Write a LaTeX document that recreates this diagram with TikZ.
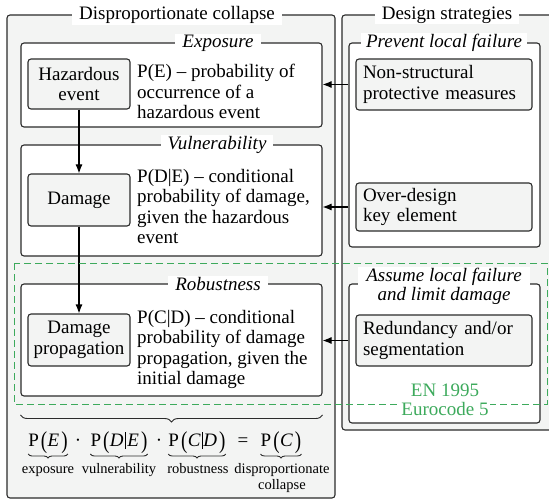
\documentclass[tikz,border=0pt]{standalone}
\usepackage{fontspec}
\setmainfont{Liberation Serif}
\usetikzlibrary{arrows.meta,decorations.pathreplacing}
\definecolor{bg}{HTML}{F3F4F3}
\definecolor{ln}{HTML}{2B2B2B}
\definecolor{grn}{HTML}{3DAA5C}
\newcommand\Lp{\kern2pt\raisebox{-2pt}{\scalebox{1}[1.28]{(}}\kern0.5pt}
\newcommand\Rp{\kern2pt\raisebox{-2pt}{\scalebox{1}[1.28]{)}}}
\newcommand\Vb[1]{\kern1pt\raisebox{-3pt}{\rule{#1}{17pt}}\kern1pt}
\begin{document}
\begin{tikzpicture}[x=1pt,y=-1pt, font=\fontsize{19}{20.5}\selectfont,
 frame/.style={draw=ln, line width=1.1pt, rounded corners=3pt, inner sep=0pt},
 outerbox/.style={frame, fill=bg},
 panel/.style={frame, fill=white},
 item/.style={frame, fill=bg},
 ttl/.style={fill=white, inner xsep=7pt, inner ysep=1pt},
 desc/.style={anchor=north west, inner sep=0pt, align=left},
 arr/.style={draw=black, line width=1.1pt, -{Latex[length=9pt,width=7pt]}},
 eq/.style={anchor=base, inner sep=0pt},
 lab/.style={inner sep=0pt, font=\fontsize{14.5}{16}\selectfont, align=center},
 ubrace/.style={draw=ln, line width=0.9pt, decorate, decoration={brace, amplitude=4pt}},
]
\useasboundingbox (0,0) rectangle (549,500);
\clip (0,0) rectangle (549,500);
% outer boxes
\node[outerbox, minimum width=328pt, minimum height=483pt] (dcL) at (171,256.5) {};
\node[outerbox, minimum width=230pt, minimum height=415pt] (dsR) at (457,222.5) {};
% left panels
\node[panel, minimum width=301pt, minimum height=84pt] (expo) at (171.5,85) {};
\node[panel, minimum width=301pt, minimum height=111pt] (vul) at (171.5,200.5) {};
\node[panel, minimum width=301pt, minimum height=112pt] (rob) at (171.5,340) {};
% right panels
\node[panel, minimum width=191pt, minimum height=204pt] (prev) at (444.5,145) {};
\node[panel, minimum width=191pt, minimum height=139pt] (assume) at (444.5,353.5) {};
% left items
\node[item, minimum width=102pt, minimum height=50pt, align=center] (haz) at (79,84) {Hazardous\\event};
\node[item, minimum width=102pt, minimum height=52pt, align=center] (dam) at (79,200) {Damage};
\node[item, minimum width=102pt, minimum height=52pt, align=center] (dp) at (79,340) {Damage\\propagation};
% right items
\node[item, minimum width=176pt, minimum height=51pt, text width=162pt, align=left] (ns) at (444,84.5) {Non-structural\\protective measures};
\node[item, minimum width=176pt, minimum height=48pt, text width=162pt, align=left] (od) at (444,207) {Over-design\\key element};
\node[item, minimum width=176pt, minimum height=51pt, text width=162pt, align=left] (red) at (444,340.5) {Redundancy and/or\\segmentation};
% titles
\node[ttl] (tL) at (177,15) {Disproportionate collapse};
\node[ttl] (tR) at (447,15) {Design strategies};
\node[ttl, font=\fontsize{19}{20.5}\selectfont\itshape] (tE) at (218,43) {Exposure};
\node[ttl, font=\fontsize{19}{20.5}\selectfont\itshape] (tV) at (217,145) {Vulnerability};
\node[ttl, font=\fontsize{19}{20.5}\selectfont\itshape] (tRo) at (218,284) {Robustness};
\node[ttl, inner xsep=5pt, font=\fontsize{19}{20.5}\selectfont\itshape] (tP) at (444,43) {Prevent local failure};
\node[ttl, inner xsep=8pt, align=center, font=\fontsize{19}{19}\selectfont\itshape] (tA) at (444,286.5) {Assume local failure\\and limit damage};
% descriptions
\node[desc] (dE) at (137,64) {P(E) – probability of\\occurrence of a\\hazardous event};
\node[desc] (dD) at (137,169) {P(D|E) – conditional\\probability of damage,\\given the hazardous\\event};
\node[desc] (dC) at (137,310) {P(C|D) – conditional\\probability of damage\\propagation, given the\\initial damage};
% arrows
\draw[arr] (haz) -- (dam);
\draw[arr] (dam) -- (dp);
\draw[arr] (prev.west |- ns) -- (expo.east |- ns);
\draw[arr] (prev.west |- od) -- (vul.east |- od);
\draw[arr] (assume.west |- red) -- (rob.east |- red);
% green dashed region
\draw[grn, line width=1pt, dash pattern=on 7pt off 4pt] (14,263) rectangle (547,404);
\node[fill=white, text=grn, align=center, inner sep=1pt, font=\fontsize{19}{19}\selectfont] (en) at (445,399.5) {EN 1995\\Eurocode 5};
% equation
\draw[ubrace, decoration={brace, amplitude=7pt}] (rob.east |- 0,415) -- (rob.west |- 0,415);
\node[eq] (eqE) at (48,446) {P\Lp\textit{E}\Rp};
\node[eq] (dot1) at (78,446) {·};
\node[eq] (eqDE) at (119,446) {P\Lp\textit{D}\Vb{1.8pt}\textit{E}\Rp};
\node[eq] (dot2) at (159,446) {·};
\node[eq] (eqCD) at (197,446) {P\Lp\textit{C}\Vb{0.8pt}\textit{D}\Rp};
\node[eq] (eqs) at (243,446) {=};
\node[eq] (eqC) at (281,446) {P\Lp\textit{C}\Rp};
\draw[ubrace] (eqE.east |- 0,454) -- (eqE.west |- 0,454);
\draw[ubrace] (eqDE.east |- 0,454) -- (eqDE.west |- 0,454);
\draw[ubrace] (eqCD.east |- 0,454) -- (eqCD.west |- 0,454);
\draw[ubrace] (eqC.east |- 0,454) -- (eqC.west |- 0,454);
\node[lab, anchor=base] (lE) at (48,473) {exposure};
\node[lab, anchor=base] (lV) at (119,473) {vulnerability};
\node[lab, anchor=base] (lR) at (198,473) {robustness};
\node[lab, anchor=north] (lC) at (282,463) {disproportionate\\collapse};
\end{tikzpicture}
\end{document}
